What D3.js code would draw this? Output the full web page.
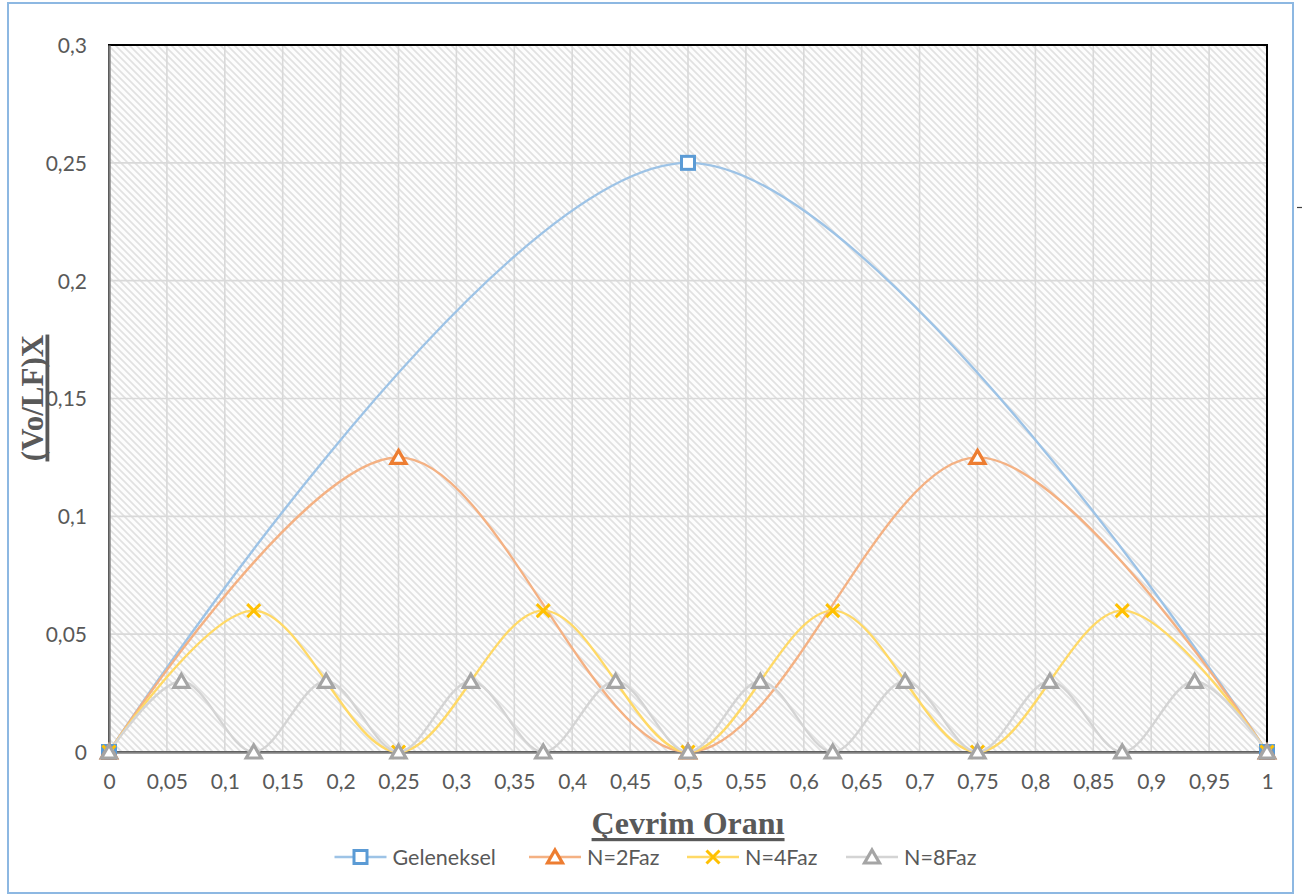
<!DOCTYPE html>
<html><head><meta charset="utf-8">
<script src="https://cdn.jsdelivr.net/npm/d3@7"></script>
<style>
html,body{margin:0;padding:0;background:#fff;}
svg{display:block;}
</style></head>
<body>
<svg id="chart" width="1302" height="895"></svg>
<script>
// ---- data ----
const seriesNames = ["Geleneksel", "N=2Faz", "N=4Faz", "N=8Faz"];
const xGeleneksel = [0, 0.5, 1];
const yGeleneksel = [0, 0.25, 0];
const xN2 = [0, 0.25, 0.5, 0.75, 1];
const yN2 = [0, 0.125, 0, 0.125, 0];
const xN4 = [0, 0.125, 0.25, 0.375, 0.5, 0.625, 0.75, 0.875, 1];
const yN4 = [0, 0.06, 0, 0.06, 0, 0.06, 0, 0.06, 0];
const xN8 = [0, 0.0625, 0.125, 0.1875, 0.25, 0.3125, 0.375, 0.4375, 0.5, 0.5625, 0.625, 0.6875, 0.75, 0.8125, 0.875, 0.9375, 1];
const yN8 = [0, 0.03, 0, 0.03, 0, 0.03, 0, 0.03, 0, 0.03, 0, 0.03, 0, 0.03, 0, 0.03, 0];
const xTicks = [0,0.05,0.1,0.15,0.2,0.25,0.3,0.35,0.4,0.45,0.5,0.55,0.6,0.65,0.7,0.75,0.8,0.85,0.9,0.95,1];
const yTicks = [0,0.05,0.1,0.15,0.2,0.25,0.3];
const xTitle = "Çevrim Oranı";
const yTitle = "(Vo/LF)X";

// ---- layout ----
const svg = d3.select("#chart");
const L = 109, R = 1267, T = 45, B = 752;
const x = d3.scaleLinear().domain([0,1]).range([L,R]);
const y = d3.scaleLinear().domain([0,0.3]).range([B,T]);
const fmt = v => String(+v.toFixed(4)).replace(".", ",");
const tickFont = "Lato, 'Open Sans', sans-serif";
const textCol = "#595959";

// chart border
svg.append("rect").attr("x",8).attr("y",3).attr("width",1285).attr("height",890)
  .attr("fill","#fff").attr("stroke","#8db8e2").attr("stroke-width",2);
// stray dash
svg.append("line").attr("x1",1297).attr("x2",1302).attr("y1",207.5).attr("y2",207.5)
  .attr("stroke","#404040").attr("stroke-width",1.2);

// hatch pattern
const defs = svg.append("defs");
const pat = defs.append("pattern").attr("id","hatch").attr("patternUnits","userSpaceOnUse")
  .attr("width",7).attr("height",7);
pat.append("rect").attr("width",7).attr("height",7).attr("fill","#fdfdfd");
pat.append("path").attr("d","M-1,-1 L8,8 M-1,6 L1,8 M6,-1 L8,1")
  .attr("stroke","#e1e1e1").attr("stroke-width",1.6);

svg.append("rect").attr("x",L).attr("y",T).attr("width",R-L).attr("height",B-T)
  .attr("fill","url(#hatch)");

// gridlines
const grid = svg.append("g");
grid.selectAll(".vg").data(xTicks.filter(v=>v>0&&v<1)).join("line")
  .attr("x1",d=>x(d)).attr("x2",d=>x(d)).attr("y1",T).attr("y2",B)
  .attr("stroke","#d9d9d9").attr("stroke-width",1.6);
grid.selectAll(".hg").data(yTicks.filter(v=>v>0&&v<0.3)).join("line")
  .attr("x1",L).attr("x2",R).attr("y1",d=>y(d)).attr("y2",d=>y(d))
  .attr("stroke","#d9d9d9").attr("stroke-width",1.6);

// plot border (black top/right)
svg.append("rect").attr("x",L).attr("y",T).attr("width",R-L).attr("height",B-T)
  .attr("fill","none").attr("stroke","#000").attr("stroke-width",2);

// axes
const xAxis = d3.axisBottom(x).tickValues(xTicks).tickFormat(fmt).tickSize(0).tickPadding(24);
const yAxis = d3.axisLeft(y).tickValues(yTicks).tickFormat(fmt).tickSize(0).tickPadding(22);
const gx = svg.append("g").attr("transform",`translate(0,${B})`).call(xAxis);
const gy = svg.append("g").attr("transform",`translate(${L},0)`).call(yAxis);
[gx,gy].forEach(g=>{
  g.select(".domain").attr("stroke","#808080").attr("stroke-width",2.4);
  g.selectAll("text").attr("fill",textCol).style("font-family",tickFont).style("font-size","21px");
});
gx.selectAll("text").attr("dy","0.71em").attr("y",22);
gy.selectAll("text").attr("dy","0.35em");

// series
const curve = d3.curveCardinal.tension(0);
const series = [
  {name: seriesNames[0], xs: xGeleneksel, ys: yGeleneksel, line:"#9dc3e6", mark:"#5b9bd5", shape:"square"},
  {name: seriesNames[1], xs: xN2, ys: yN2, line:"#f4b183", mark:"#ed7d31", shape:"triangle"},
  {name: seriesNames[2], xs: xN4, ys: yN4, line:"#ffd966", mark:"#ffc000", shape:"x"},
  {name: seriesNames[3], xs: xN8, ys: yN8, line:"#d4d4d4", mark:"#a5a5a5", shape:"triangle"}
];
const lineGen = d3.line().x(d=>x(d[0])).y(d=>y(d[1])).curve(curve);

function drawMarker(g, shape, color){
  if(shape==="square"){
    g.append("rect").attr("x",-6.5).attr("y",-6.5).attr("width",13).attr("height",13)
      .attr("fill","#fff").attr("stroke",color).attr("stroke-width",3);
  } else if(shape==="triangle"){
    g.append("path").attr("d","M0,-7 L7.5,6 L-7.5,6 Z")
      .attr("fill","#fff").attr("stroke",color).attr("stroke-width",3.2).attr("stroke-linejoin","miter");
  } else {
    g.append("path").attr("d","M-6.5,-6.5 L6.5,6.5 M-6.5,6.5 L6.5,-6.5")
      .attr("fill","none").attr("stroke",color).attr("stroke-width",3);
  }
}

series.forEach(s=>{
  const pts = s.xs.map((v,i)=>[v, s.ys[i]]);
  svg.append("path").datum(pts).attr("d",lineGen)
    .attr("fill","none").attr("stroke",s.line).attr("stroke-width",2.4);
});
series.forEach(s=>{
  const pts = s.xs.map((v,i)=>[v, s.ys[i]]);
  pts.forEach(p=>{
    const g = svg.append("g").attr("transform",`translate(${x(p[0])},${y(p[1])})`);
    drawMarker(g, s.shape, s.mark);
  });
});

// axis titles
const titleFont = "'Liberation Serif', 'Times New Roman', serif";
const xt = svg.append("text").attr("x",(L+R)/2).attr("y",834).attr("text-anchor","middle")
  .attr("fill",textCol).style("font-family",titleFont).style("font-weight","bold").style("font-size","32px")
  .text(xTitle);
const xb = xt.node().getBBox();
svg.append("rect").attr("x",xb.x).attr("y",838).attr("width",xb.width).attr("height",3.2).attr("fill",textCol);

const yt = svg.append("text").attr("transform","translate(43,398) rotate(-90)").attr("text-anchor","middle")
  .attr("fill",textCol).style("font-family",titleFont).style("font-weight","bold").style("font-size","31px")
  .text(yTitle);
const yb = yt.node().getBBox();
svg.append("rect").attr("x",45.5).attr("y",398-yb.width/2).attr("width",3.8).attr("height",yb.width).attr("fill",textCol);

// legend
const legendX = [360.5, 555, 713, 872];
const legY = 857;
series.forEach((s,i)=>{
  const cx = legendX[i];
  svg.append("line").attr("x1",cx-26).attr("x2",cx+26).attr("y1",legY).attr("y2",legY)
    .attr("stroke",s.line).attr("stroke-width",2.4);
  const g = svg.append("g").attr("transform",`translate(${cx},${legY})`);
  drawMarker(g, s.shape, s.mark);
  svg.append("text").attr("x",cx+32).attr("y",legY).attr("dy","0.35em")
    .attr("fill",textCol).style("font-family",tickFont).style("font-size","21.5px").text(s.name);
});
</script>
</body></html>
